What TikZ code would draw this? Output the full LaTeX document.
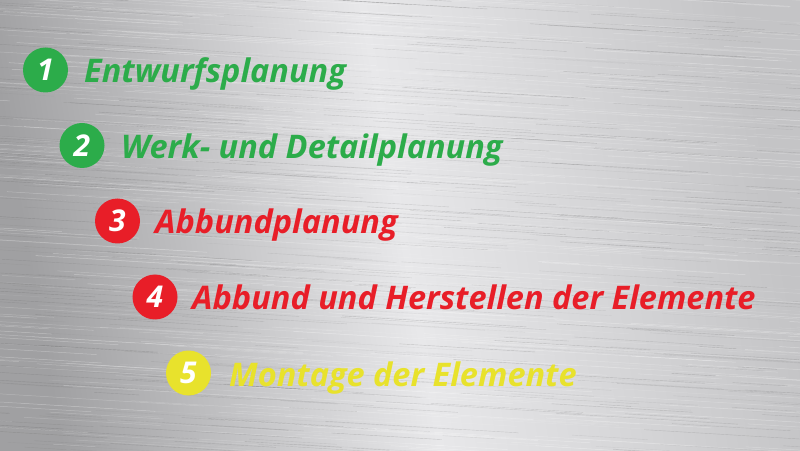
\documentclass[tikz,border=0pt]{standalone}
\usepackage{fontspec}
\setmainfont{Open Sans}
\definecolor{stepgreen}{RGB}{44,172,74}
\definecolor{stepred}{RGB}{232,30,40}
\definecolor{stepyellow}{RGB}{232,226,44}
\definecolor{metaldark}{RGB}{160,160,162}
\definecolor{metalmid}{RGB}{196,196,198}
\definecolor{metallight}{RGB}{232,232,234}
\begin{document}
\begin{tikzpicture}[x=1pt,y=1pt,
  numdot/.style={circle,fill=#1,minimum size=45pt,inner sep=0pt,text=white,
    font=\fontsize{30}{32}\selectfont\bfseries\itshape},
  steptext/.style={anchor=base west,inner sep=0pt,text=#1,
    font=\fontsize{32.5}{36}\selectfont\bfseries\itshape}]
\useasboundingbox (0,0) rectangle (800,450);
\shade[left color=metaldark,right color=metalmid,middle color=metallight,shading angle=100] (0,0) rectangle (800,450);
\begin{scope}
\clip (0,0) rectangle (800,450);
\pgfmathsetseed{7}
\foreach \k in {1,...,700}{
  \pgfmathsetmacro\xx{rnd*900-100}
  \pgfmathsetmacro\yy{rnd*500}
  \pgfmathsetmacro\ll{40+rnd*220}
  \pgfmathsetmacro\oo{0.08+rnd*0.25}
  \draw[white,opacity=\oo,line width=0.5pt] (\xx,\yy) -- ++(\ll,-0.06*\ll);
}
\foreach \k in {1,...,500}{
  \pgfmathsetmacro\xx{rnd*900-100}
  \pgfmathsetmacro\yy{rnd*500}
  \pgfmathsetmacro\ll{30+rnd*180}
  \pgfmathsetmacro\oo{0.05+rnd*0.18}
  \draw[black!70,opacity=\oo,line width=0.4pt] (\xx,\yy) -- ++(\ll,-0.06*\ll);
}
\end{scope}
\node[numdot=stepgreen] (c1) at (45.5,380) {1};
\node[steptext=stepgreen] (t1) at (84,367) {Entwurfsplanung};
\node[numdot=stepgreen] (c2) at (82,304.5) {2};
\node[steptext=stepgreen] (t2) at (121,291.5) {Werk- und Detailplanung};
\node[numdot=stepred] (c3) at (117.5,229) {3};
\node[steptext=stepred] (t3) at (155,216) {Abbundplanung};
\node[numdot=stepred] (c4) at (155,153) {4};
\node[steptext=stepred] (t4) at (192,140) {Abbund und Herstellen der Elemente};
\node[numdot=stepyellow] (c5) at (188.5,77) {5};
\node[steptext=stepyellow] (t5) at (229,64) {Montage der Elemente};
\end{tikzpicture}
\end{document}
